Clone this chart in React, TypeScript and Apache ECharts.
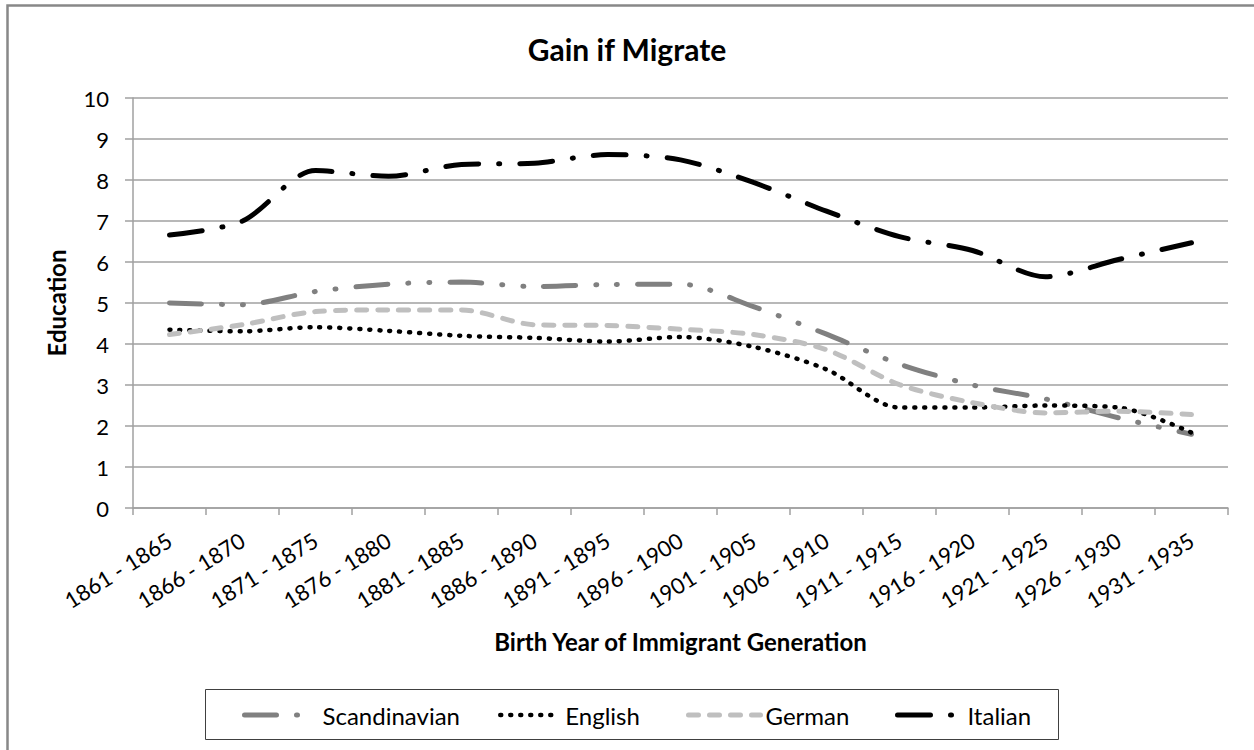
import React, { useEffect, useRef } from "react";
import * as echarts from "echarts";

const categories = [
  "1861 - 1865", "1866 - 1870", "1871 - 1875", "1876 - 1880", "1881 - 1885",
  "1886 - 1890", "1891 - 1895", "1896 - 1900", "1901 - 1905", "1906 - 1910",
  "1911 - 1915", "1916 - 1920", "1921 - 1925", "1926 - 1930", "1931 - 1935",
];
const scandinavian = [5.0, 4.96, 5.28, 5.46, 5.51, 5.4, 5.45, 5.46, 4.91, 4.24, 3.51, 3.0, 2.66, 2.2, 1.8];
const english = [4.35, 4.31, 4.41, 4.32, 4.2, 4.15, 4.06, 4.17, 3.93, 3.38, 2.45, 2.45, 2.5, 2.45, 1.84];
const german = [4.23, 4.47, 4.79, 4.83, 4.83, 4.47, 4.45, 4.36, 4.23, 3.86, 3.01, 2.57, 2.32, 2.36, 2.28];
const italian = [6.66, 7.0, 8.23, 8.09, 8.38, 8.41, 8.62, 8.49, 7.94, 7.24, 6.62, 6.28, 5.64, 6.06, 6.47];
const seriesNames = ["Scandinavian", "English", "German", "Italian"];
const yTicks = { min: 0, max: 10, interval: 1 };

export default function App() {
  const ref = useRef<HTMLDivElement>(null);
  useEffect(() => {
    const chart = echarts.init(ref.current!, null, { renderer: "svg" });
    const font = "Lato, 'Open Sans', sans-serif";
    const axisColor = "#a0a0a0";
    const styles = [
      { color: "#808080", width: 5, type: [32, 20, 1, 20, 1, 20] },
      { color: "#000000", width: 4.5, type: [1, 9] },
      { color: "#bfbfbf", width: 5, type: [10, 11] },
      { color: "#000000", width: 5, type: [33, 20, 1, 20] },
    ];
    const datas = [scandinavian, english, german, italian];
    const legendLayout = [
      { left: 242, itemWidth: 73 },
      { left: 498, itemWidth: 60 },
      { left: 686, itemWidth: 72 },
      { left: 895, itemWidth: 65 },
    ];
    chart.setOption({
      animation: false,
      backgroundColor: "#ffffff",
      textStyle: { fontFamily: font },
      title: {
        text: "Gain if Migrate",
        left: "center",
        top: 29,
        textStyle: { fontSize: 30, fontWeight: "bold", color: "#000", fontFamily: font },
      },
      grid: { left: 133, right: 26, top: 98, bottom: 242, outerBoundsMode: "none", containLabel: false },
      xAxis: {
        type: "category",
        data: categories,
        boundaryGap: true,
        axisLine: { show: true, lineStyle: { color: axisColor, width: 1.5 } },
        axisTick: { show: true, length: 7, lineStyle: { color: axisColor, width: 1.5 } },
        axisLabel: { rotate: 32, margin: 30, fontSize: 22, color: "#000", interval: 0, fontFamily: font },
        splitLine: { show: false },
        name: "Birth Year of Immigrant Generation",
        nameLocation: "middle",
        nameGap: 121,
        nameTextStyle: { fontSize: 24, fontWeight: "bold", color: "#000", fontFamily: font },
      },
      yAxis: {
        type: "value",
        min: yTicks.min,
        max: yTicks.max,
        interval: yTicks.interval,
        axisLine: { show: true, lineStyle: { color: axisColor, width: 1.5 } },
        axisTick: { show: true, length: 8, lineStyle: { color: axisColor, width: 1.5 } },
        axisLabel: { margin: 24, fontSize: 22, color: "#000", fontFamily: font },
        splitLine: { show: true, lineStyle: { color: axisColor, width: 1.5 } },
        name: "Education",
        nameLocation: "middle",
        nameGap: 65,
        nameRotate: 90,
        nameTextStyle: { fontSize: 24, fontWeight: "bold", color: "#000", fontFamily: font },
      },
      legend: seriesNames.map((n, i) => ({
        left: legendLayout[i].left,
        top: 703,
        padding: 0,
        itemWidth: legendLayout[i].itemWidth,
        itemHeight: 14,
        itemStyle: { opacity: 0 },
        lineStyle: { ...styles[i], cap: "round" },
        selectedMode: false,
        textStyle: { fontSize: 24, color: "#000", fontFamily: font },
        data: [n],
      })),
      graphic: [
        {
          type: "rect",
          silent: true,
          shape: { x: 205.5, y: 689.5, width: 853, height: 50 },
          style: { fill: "none", stroke: "#404040", lineWidth: 1 },
        },
        {
          type: "rect",
          silent: true,
          shape: { x: 7.5, y: 5.5, width: 1400, height: 900 },
          style: { fill: "none", stroke: "#888888", lineWidth: 2.5 },
        },
      ],
      series: seriesNames.map((name, i) => ({
        name,
        type: "line",
        data: datas[i],
        smooth: 0.3,
        symbol: "none",
        showSymbol: false,
        itemStyle: { color: styles[i].color },
        lineStyle: { ...styles[i], cap: "round" },
      })),
    });
    return () => chart.dispose();
  }, []);
  return (
    <div
      ref={ref}
      style={{ position: "fixed", left: 0, top: 0, width: 1254, height: 750, background: "#fff" }}
    />
  );
}
